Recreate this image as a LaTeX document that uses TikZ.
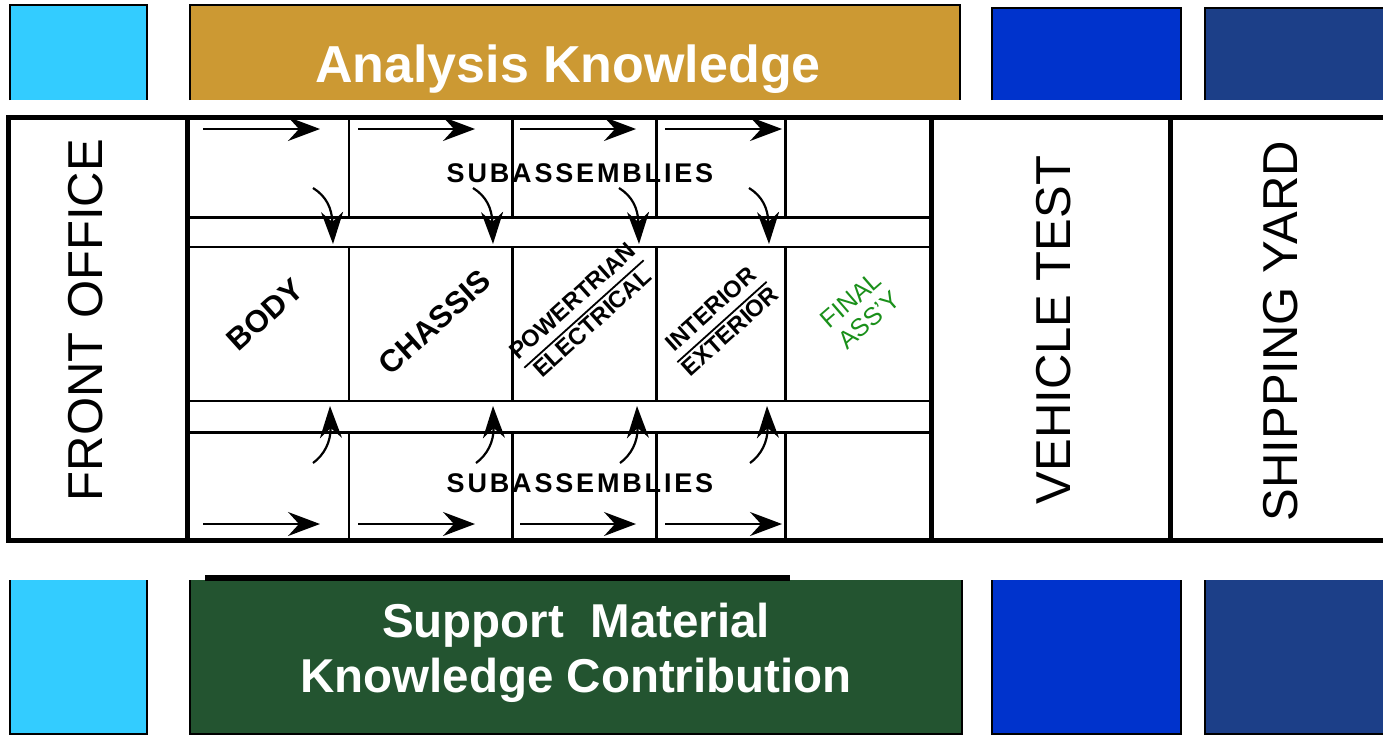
\documentclass[tikz,border=0pt]{standalone}
\usepackage{fontspec}
\setmainfont{Liberation Sans}
\usetikzlibrary{arrows.meta}
\definecolor{lblue}{HTML}{33CCFF}
\definecolor{gold}{HTML}{CC9933}
\definecolor{mblue}{HTML}{0033CC}
\definecolor{dblue}{HTML}{1C3F88}
\definecolor{dgreen}{HTML}{235430}
\definecolor{fgreen}{HTML}{1A901A}
\setlength\arrayrulewidth{1.8pt}
\begin{document}
\begin{tikzpicture}[x=1pt,y=-1pt,
  box/.style={inner sep=0pt, outer sep=0pt, anchor=north west},
  edge/.style={line width=2.5pt, black},
  band/.style={line width=5pt},
  midline/.style={line width=3pt},
  thinline/.style={line width=2pt},
  hd/.style={-{Stealth[length=32pt,width=24pt,inset=11pt]}},
  hdc/.style={-{Stealth[length=32pt,width=22pt,inset=10pt]}},
  flow/.style={line width=1.7pt, hd},
  curveflow/.style={line width=2.2pt, hdc},
  big/.style={font=\fontsize{49}{55}\selectfont, rotate=90, inner sep=0pt},
  title/.style={text=white, font=\fontsize{52}{60}\selectfont\bfseries, anchor=base, inner sep=0pt},
  subtitle/.style={text=white, font=\fontsize{47.5}{55}\selectfont\bfseries, anchor=base, inner sep=0pt},
  sub/.style={font=\fontsize{27}{32}\selectfont\bfseries\addfontfeatures{LetterSpace=10.5}, anchor=base, inner sep=0pt},
  stn/.style={font=\fontsize{31}{36}\selectfont\bfseries, rotate=42, inner sep=0pt},
  stn2/.style={font=\fontsize{23.5}{27.5}\selectfont\bfseries, rotate=42, inner sep=0pt},
  fin/.style={font=\fontsize{25}{27}\selectfont, text=fgreen, rotate=41, align=center, inner sep=0pt}
]
\useasboundingbox (0,0) rectangle (1383,734);
\clip (0,0) rectangle (1383,734);
\fill[white] (0,0) rectangle (1383,734);

% top boxes
\node[box, fill=lblue, minimum width=137pt, minimum height=95pt] (tlb) at (10,5) {};
\node[box, fill=gold, minimum width=770pt, minimum height=95pt] (tgold) at (190,5) {};
\node[box, fill=mblue, minimum width=189pt, minimum height=92pt] (tmb) at (992,8) {};
\node[box, fill=dblue, minimum width=190pt, minimum height=92pt] (tdb) at (1205,8) {};
\foreach \n in {tlb,tgold,tmb,tdb}
  \draw[edge] (\n.south west) |- (\n.north east) -- (\n.south east);
\node[title] (tAK) at (568,82) {Analysis Knowledge};

% bottom boxes
\node[box, fill=lblue, minimum width=137pt, minimum height=154pt] (blb) at (10,580) {};
\node[box, fill=dgreen, minimum width=772pt, minimum height=154pt] (bgreen) at (190,580) {};
\node[box, fill=mblue, minimum width=189pt, minimum height=154pt] (bmb) at (992,580) {};
\node[box, fill=dblue, minimum width=190pt, minimum height=154pt] (bdb) at (1205,580) {};
\foreach \n in {blb,bgreen,bmb,bdb}
  \draw[edge] (\n.north west) |- (\n.south east) -- (\n.north east);
\node[box, fill=black, minimum width=585pt, minimum height=6pt] (bbar) at (205,575) {};
\node[subtitle] (bSM) at (576,637) {Support\ \ Material};
\node[subtitle] (bKC) at (576,692) {Knowledge Contribution};

% main band
\draw[band] (8,117) rectangle (1400,540);
\draw[band] (187,117) -- (187,540);
\draw[band] (931,117) -- (931,540);
\draw[band] (1170,117) -- (1170,540);
\draw[midline] (187,217) -- (931,217);
\draw[thinline] (187,247) -- (931,247);
\draw[thinline] (187,401) -- (931,401);
\draw[midline] (187,432) -- (931,432);
\foreach \x/\w in {349/2, 512/3, 656/3, 785/3} {
  \draw[line width=\w pt] (\x,117) -- (\x,217);
  \draw[line width=\w pt] (\x,247) -- (\x,401);
  \draw[line width=\w pt] (\x,432) -- (\x,540);
}

% big labels
\node[big] (fo) at (86,320) {FRONT OFFICE};
\node[big] (vt) at (1054,330) {VEHICLE TEST};
\node[big] (sy) at (1281,331) {SHIPPING YARD};

% horizontal flows
\foreach \i/\s/\e in {1/203/320, 2/358/475, 3/520/636, 4/665/782} {
  \coordinate (ts\i) at (\s,129);
  \coordinate (te\i) at (\e,129);
  \draw[flow] (ts\i) -- (te\i);
  \coordinate (bs\i) at (\s,524);
  \coordinate (be\i) at (\e,524);
  \draw[flow] (bs\i) -- (be\i);
}
% curved flows into the main line
\foreach \i/\x in {1/333, 2/493, 3/639, 4/769} {
  \coordinate (ds\i) at (\x-20,188);
  \coordinate (de\i) at (\x,244);
  \draw[curveflow] (ds\i) .. controls (\x-7,196) and (\x-1,208) .. (de\i);
}
\foreach \i/\x in {1/330, 2/493, 3/637, 4/767} {
  \coordinate (us\i) at (\x-17,463);
  \coordinate (ue\i) at (\x,406);
  \draw[curveflow] (us\i) .. controls (\x-6,455) and (\x+1,442) .. (ue\i);
}

\node[sub] (subT) at (580,182) {SUBASSEMBLIES};
\node[sub] (subB) at (580,492) {SUBASSEMBLIES};

% station labels
\node[stn] (body) at (265,315) {BODY};
\node[stn] (chassis) at (435,322) {CHASSIS};
\node[stn2] (pe) at (584,314) {\begin{tabular}{@{}c@{}}POWERTRIAN\\\hline ELECTRICAL\end{tabular}};
\node[stn2] (ie) at (722,322) {\begin{tabular}{@{}c@{}}INTERIOR\\\hline EXTERIOR\end{tabular}};
\node[fin] (fa) at (860,310) {FINAL\\ASS'Y};
\end{tikzpicture}
\end{document}
